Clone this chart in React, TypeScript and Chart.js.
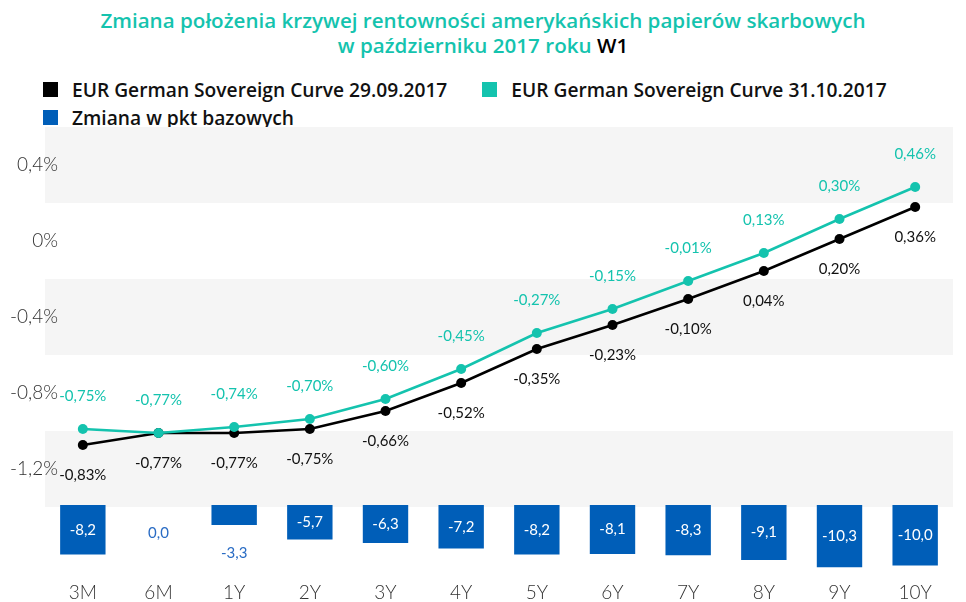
import React, { useEffect, useRef } from "react";
import { Chart, registerables } from "chart.js";

Chart.register(...registerables);

const categories = ["3M", "6M", "1Y", "2Y", "3Y", "4Y", "5Y", "6Y", "7Y", "8Y", "9Y", "10Y"];
const curveSep = [-0.83, -0.77, -0.77, -0.75, -0.66, -0.52, -0.35, -0.23, -0.1, 0.04, 0.2, 0.36];
const curveOct = [-0.75, -0.77, -0.74, -0.7, -0.6, -0.45, -0.27, -0.15, -0.01, 0.13, 0.3, 0.46];
const changeBp = [-8.2, 0.0, -3.3, -5.7, -6.3, -7.2, -8.2, -8.1, -8.3, -9.1, -10.3, -10.0];
const yTickValues = [0.4, 0, -0.4, -0.8, -1.2];
const bandEdges = [0.6, 0.2, -0.2, -0.6, -1.0, -1.4];

const seriesNames = [
  "EUR German Sovereign Curve 29.09.2017",
  "EUR German Sovereign Curve 31.10.2017",
  "Zmiana w pkt bazowych",
];

const BLACK = "#000000";
const TEAL = "#14c3ae";
const BLUE = "#005eb8";
const FONT = "Lato, 'Open Sans', sans-serif";
const HEAD_FONT = "'Open Sans', Lato, sans-serif";

const fmtPct = (v: number, d: number) => {
  if (Math.abs(v) < 1e-9) return "0%";
  return v.toFixed(d).replace(".", ",") + "%";
};
const fmtNum = (v: number) => v.toFixed(1).replace(".", ",");

const bandsPlugin = {
  id: "bands",
  beforeDraw(chart: any) {
    const { ctx, chartArea } = chart;
    const y = chart.scales.yVis;
    ctx.save();
    ctx.fillStyle = "#f5f5f5";
    for (let i = 0; i < bandEdges.length - 1; i += 2) {
      const y0 = y.getPixelForValue(bandEdges[i]);
      const y1 = y.getPixelForValue(bandEdges[i + 1]);
      ctx.fillRect(chartArea.left, y0, chartArea.right - chartArea.left, y1 - y0);
    }
    ctx.restore();
  },
};

const labelsPlugin = {
  id: "valueLabels",
  afterDatasetsDraw(chart: any) {
    const { ctx } = chart;
    ctx.save();
    ctx.textAlign = "center";
    ctx.textBaseline = "middle";
    ctx.font = `15px ${FONT}`;
    const m0 = chart.getDatasetMeta(0);
    m0.data.forEach((el: any, i: number) => {
      ctx.fillStyle = "#111111";
      ctx.fillText(fmtPct(curveSep[i], 2), el.x, el.y + 30);
    });
    const m1 = chart.getDatasetMeta(1);
    m1.data.forEach((el: any, i: number) => {
      ctx.fillStyle = TEAL;
      ctx.fillText(fmtPct(curveOct[i], 2), el.x, el.y - 33);
    });
    const m2 = chart.getDatasetMeta(2);
    m2.data.forEach((el: any, i: number) => {
      const h = Math.abs(el.base - el.y);
      const bottom = Math.max(el.base, el.y);
      if (h > 26) {
        ctx.fillStyle = "#ffffff";
        ctx.fillText(fmtNum(changeBp[i]), el.x, (el.base + el.y) / 2);
      } else {
        ctx.fillStyle = "#2a6cc4";
        ctx.fillText(fmtNum(changeBp[i]), el.x, bottom + 28);
      }
    });
    ctx.restore();
  },
};

export default function App() {
  const ref = useRef<HTMLCanvasElement>(null);

  useEffect(() => {
    if (!ref.current) return;
    const chart = new Chart(ref.current, {
      data: {
        labels: categories,
        datasets: [
          {
            type: "line",
            label: seriesNames[0],
            data: curveSep,
            yAxisID: "yLine",
            borderColor: BLACK,
            backgroundColor: BLACK,
            borderWidth: 2.5,
            pointRadius: 5,
            pointBackgroundColor: BLACK,
            pointBorderWidth: 0,
            tension: 0,
            order: 1,
          },
          {
            type: "line",
            label: seriesNames[1],
            data: curveOct,
            yAxisID: "yLine",
            borderColor: TEAL,
            backgroundColor: TEAL,
            borderWidth: 2.5,
            pointRadius: 5,
            pointBackgroundColor: TEAL,
            pointBorderWidth: 0,
            tension: 0,
            order: 0,
          },
          {
            type: "bar",
            label: seriesNames[2],
            data: changeBp,
            yAxisID: "yBar",
            backgroundColor: BLUE,
            categoryPercentage: 0.8,
            barPercentage: 0.75,
            order: 2,
          },
        ],
      } as any,
      options: {
        animation: false,
        responsive: false,
        maintainAspectRatio: false,
        layout: { padding: { top: 119, right: 2, left: 0, bottom: 0 } },
        plugins: {
          legend: { display: false },
          title: { display: false },
          tooltip: { enabled: false },
        },
        scales: {
          x: {
            type: "category",
            offset: true,
            grid: { display: false, drawTicks: false },
            border: { display: false },
            ticks: {
              color: "#333333",
              font: { family: FONT, size: 19, weight: "300" },
              padding: 6,
              maxRotation: 0,
              autoSkip: false,
            },
            afterFit: (s: any) => {
              s.height = 27;
            },
          },
          yVis: {
            type: "linear",
            position: "left",
            min: -1.7579,
            max: 0.6,
            grid: { display: false, drawTicks: false },
            border: { display: false },
            ticks: {
              color: "#333333",
              font: { family: FONT, size: 19, weight: "300" },
              padding: -13,
              callback: (v: any) => fmtPct(Number(v), 1),
            },
            afterBuildTicks: (s: any) => {
              s.ticks = yTickValues.map((v) => ({ value: v }));
            },
            afterFit: (s: any) => {
              s.width = 37;
              s._computeLabelArea = () => null;
            },
          },
          yLine: {
            type: "linear",
            display: false,
            min: -1.48,
            max: 0.76,
          },
          yBar: {
            type: "linear",
            display: false,
            min: -11.57,
            max: 62.48,
          },
        },
      } as any,
      plugins: [bandsPlugin, labelsPlugin],
    });
    return () => chart.destroy();
  }, []);

  const sq = (c: string) => (
    <span
      style={{
        display: "inline-block",
        width: 15,
        height: 15,
        background: c,
        marginRight: 14,
        verticalAlign: "middle",
        position: "relative",
        top: -2,
      }}
    />
  );

  return (
    <div style={{ position: "relative", width: 950, height: 594, fontFamily: FONT }}>
      <div
        style={{
          position: "absolute",
          top: 0,
          left: 0,
          width: 950,
          textAlign: "center",
          color: TEAL,
          fontFamily: HEAD_FONT,
          fontWeight: 600,
          fontSize: 20.6,
          lineHeight: "25px",
        }}
      >
        <div>Zmiana położenia krzywej rentowności amerykańskich papierów skarbowych</div>
        <div>
          w październiku 2017 roku <span style={{ color: "#000" }}>W1</span>
        </div>
      </div>
      <div
        style={{
          position: "absolute",
          top: 72,
          left: 35,
          color: "#111",
          fontFamily: HEAD_FONT,
          fontWeight: 600,
          fontSize: 19.2,
          lineHeight: "20px",
          whiteSpace: "nowrap",
        }}
      >
        <div>
          {sq(BLACK)}
          <span>{seriesNames[0]}</span>
          <span style={{ display: "inline-block", width: 35 }} />
          {sq(TEAL)}
          <span>{seriesNames[1]}</span>
        </div>
        <div style={{ marginTop: 8 }}>
          {sq(BLUE)}
          <span>{seriesNames[2]}</span>
        </div>
      </div>
      <canvas
        ref={ref}
        width={950}
        height={594}
        style={{ position: "absolute", top: 0, left: 0, width: 950, height: 594 }}
      />
    </div>
  );
}
